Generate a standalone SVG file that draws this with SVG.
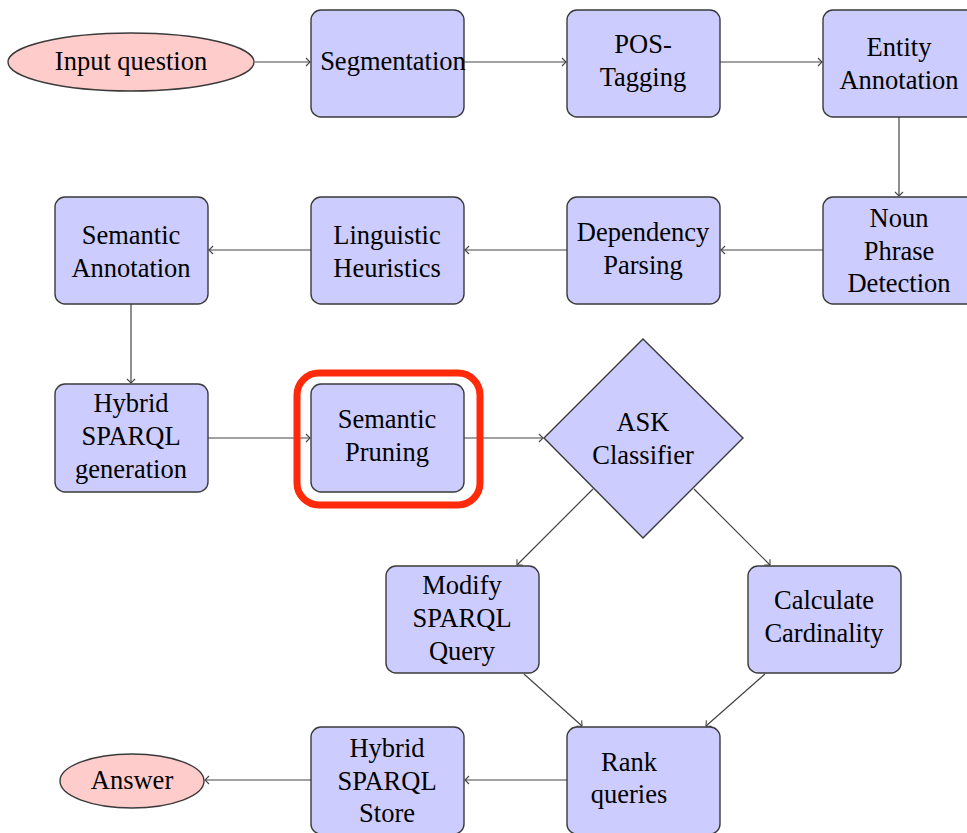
<svg xmlns="http://www.w3.org/2000/svg" width="967" height="833" viewBox="0 0 967 833">
<style>
.box{fill:#ccccff;stroke:#3a3a3a;stroke-width:1.4}
.term{fill:#ffcccc;stroke:#3a3a3a;stroke-width:1.4}
.edge{fill:none;stroke:#444;stroke-width:1.2;marker-end:url(#arr)}
text{font-family:"Liberation Serif","Times New Roman",serif;font-size:26.5px;fill:#000;text-anchor:middle}
</style>
<defs>
<marker id="arr" viewBox="-6 -5 7 10" refX="0" refY="0" markerWidth="7" markerHeight="10" markerUnits="userSpaceOnUse" orient="auto">
<path d="M-4,-4 Q-1,-1 0,0 Q-1,1 -4,4" fill="none" stroke="#444" stroke-width="1.1"/>
</marker>
</defs>
<rect width="967" height="833" fill="#fff"/>
<g id="connectors">
<line class="edge" x1="255" y1="62" x2="310" y2="62"/>
<line class="edge" x1="464" y1="62" x2="566" y2="62"/>
<line class="edge" x1="720" y1="62" x2="822" y2="62"/>
<line class="edge" x1="899" y1="117" x2="899" y2="196"/>
<line class="edge" x1="823" y1="250" x2="721" y2="250"/>
<line class="edge" x1="567" y1="250" x2="465" y2="250"/>
<line class="edge" x1="311" y1="250" x2="209" y2="250"/>
<line class="edge" x1="131" y1="304" x2="131" y2="383"/>
<line class="edge" x1="208" y1="438" x2="310" y2="438"/>
<line class="edge" x1="464" y1="438" x2="543" y2="438"/>
<line class="edge" x1="593" y1="489" x2="517" y2="565"/>
<line class="edge" x1="694" y1="489" x2="770" y2="565"/>
<line class="edge" x1="524" y1="674" x2="582" y2="726"/>
<line class="edge" x1="765" y1="674" x2="706" y2="726"/>
<line class="edge" x1="567" y1="780" x2="465" y2="780"/>
<line class="edge" x1="311" y1="780" x2="205" y2="780"/>
</g>
<g id="input">
<ellipse class="term" cx="131" cy="62" rx="123" ry="29"/>
<text x="131" y="70">Input question</text>
</g>
<g id="segmentation">
<rect class="box" x="311" y="10" width="153" height="107" rx="10"/>
<text x="393" y="70">Segmentation</text>
</g>
<g id="pos">
<rect class="box" x="567" y="10" width="153" height="107" rx="10"/>
<text x="643" y="53">POS-</text>
<text x="643" y="86">Tagging</text>
</g>
<g id="entity">
<rect class="box" x="823" y="10" width="153" height="107" rx="10"/>
<text x="899" y="56">Entity</text>
<text x="899" y="89">Annotation</text>
</g>
<g id="noun">
<rect class="box" x="823" y="197" width="153" height="107" rx="10"/>
<text x="899" y="227">Noun</text>
<text x="899" y="260">Phrase</text>
<text x="899" y="292">Detection</text>
</g>
<g id="dependency">
<rect class="box" x="567" y="197" width="153" height="107" rx="10"/>
<text x="643" y="241">Dependency</text>
<text x="643" y="274">Parsing</text>
</g>
<g id="linguistic">
<rect class="box" x="311" y="197" width="153" height="107" rx="10"/>
<text x="387" y="244">Linguistic</text>
<text x="387" y="277">Heuristics</text>
</g>
<g id="semanno">
<rect class="box" x="55" y="197" width="153" height="107" rx="10"/>
<text x="131" y="244">Semantic</text>
<text x="131" y="277">Annotation</text>
</g>
<g id="hybridgen">
<rect class="box" x="55" y="384" width="153" height="108" rx="10"/>
<text x="131" y="412">Hybrid</text>
<text x="131" y="445">SPARQL</text>
<text x="131" y="478">generation</text>
</g>
<g id="pruning">
<rect x="297" y="373" width="183" height="132" rx="22" fill="none" stroke="#ff2a0a" stroke-width="7"/>
<rect class="box" x="311" y="384" width="153" height="108" rx="10"/>
<text x="387" y="428">Semantic</text>
<text x="387" y="461">Pruning</text>
</g>
<g id="ask">
<polygon class="box" points="643,339 743,438 643,538 544,438"/>
<text x="643" y="431">ASK</text>
<text x="643" y="464">Classifier</text>
</g>
<g id="modify">
<rect class="box" x="386" y="566" width="153" height="107" rx="10"/>
<text x="462" y="594">Modify</text>
<text x="462" y="627">SPARQL</text>
<text x="462" y="660">Query</text>
</g>
<g id="cardinality">
<rect class="box" x="748" y="566" width="153" height="107" rx="10"/>
<text x="824" y="609">Calculate</text>
<text x="824" y="642">Cardinality</text>
</g>
<g id="rank">
<rect class="box" x="567" y="727" width="153" height="107" rx="10"/>
<text x="629" y="771">Rank</text>
<text x="629" y="803">queries</text>
</g>
<g id="store">
<rect class="box" x="311" y="727" width="153" height="107" rx="10"/>
<text x="387" y="757">Hybrid</text>
<text x="387" y="790">SPARQL</text>
<text x="387" y="822">Store</text>
</g>
<g id="answer">
<ellipse class="term" cx="132" cy="781" rx="72" ry="27"/>
<text x="132" y="789">Answer</text>
</g>
</svg>
